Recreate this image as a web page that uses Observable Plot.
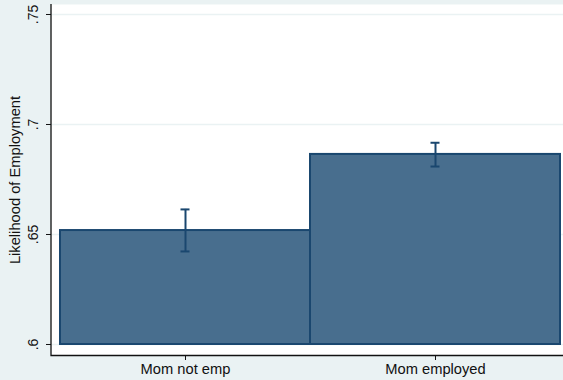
<!DOCTYPE html>
<html><head><meta charset="utf-8">
<script src="https://cdn.jsdelivr.net/npm/d3@7"></script>
<script src="https://cdn.jsdelivr.net/npm/@observablehq/plot@0.6"></script>
<style>
html,body{margin:0;padding:0;background:#eaf2f3;overflow:hidden;}
</style></head><body><div id="chart"></div>
<script>
const categories = ["Mom not emp", "Mom employed"];
const means = [0.6518, 0.6864];
const lower = [0.6423, 0.6809];
const upper = [0.6614, 0.6917];
const yTicks = [0.6, 0.65, 0.7, 0.75];
const yTitle = "Likelihood of Employment";

const data = categories.map((c, i) => ({cat: c, mean: means[i], lo: lower[i], hi: upper[i]}));
const fmt = d => String(d).replace(/^0/, "");
const navy = "#1a476f";
const font = "'Liberation Sans', Arial, sans-serif";

const axisLines = (index, scales, values, dims) => {
  const x0 = dims.marginLeft, y0 = dims.height - dims.marginBottom;
  return d3.create("svg:path")
    .attr("d", `M${x0},${dims.marginTop}V${y0 + 0.5}H${dims.width}`)
    .attr("fill", "none").attr("stroke", "#111").attr("stroke-width", 1.3).node();
};

const chart = Plot.plot({
  width: 563, height: 380,
  marginLeft: 51, marginRight: 0, marginTop: 4, marginBottom: 25,
  style: {background: "#eaf2f3", fontFamily: font, fontSize: "14.5px", color: "#111"},
  x: {type: "band", domain: categories, range: [60, 560], padding: 0, label: null},
  y: {domain: [0.595, 0.754545], label: null},
  marks: [
    Plot.frame({fill: "white", stroke: "none"}),
    Plot.gridY(yTicks, {stroke: "#eaf2f3", strokeOpacity: 1, strokeWidth: 1.5}),
    Plot.barY(data, {x: "cat", y1: 0.6, y2: "mean", fill: "#486e8e", stroke: navy, strokeWidth: 2}),
    Plot.ruleX(data, {x: "cat", y1: "lo", y2: "hi", stroke: navy, strokeWidth: 2}),
    Plot.tickY(data, {x: "cat", y: "lo", stroke: navy, strokeWidth: 2, insetLeft: 120.5, insetRight: 120.5}),
    Plot.tickY(data, {x: "cat", y: "hi", stroke: navy, strokeWidth: 2, insetLeft: 120.5, insetRight: 120.5}),
    Plot.axisY(yTicks, {tickFormat: () => "", tickSize: 5, label: null, stroke: "#111"}),
    Plot.text(yTicks, {y: d => d, text: fmt, frameAnchor: "left", dx: -18, rotate: -90, textAnchor: "middle", lineAnchor: "middle", fontSize: 14, fill: "#111"}),
    Plot.text([yTitle], {text: d => d, frameAnchor: "left", dx: -36, rotate: -90, textAnchor: "middle", lineAnchor: "middle", fontSize: 14.7, fill: "#111"}),
    Plot.axisX({tickSize: 5, tickPadding: 3, label: null, fontSize: 14.7, stroke: "#111", fill: "#111"}),
    axisLines
  ]
});
document.getElementById("chart").appendChild(chart);
</script></body></html>
